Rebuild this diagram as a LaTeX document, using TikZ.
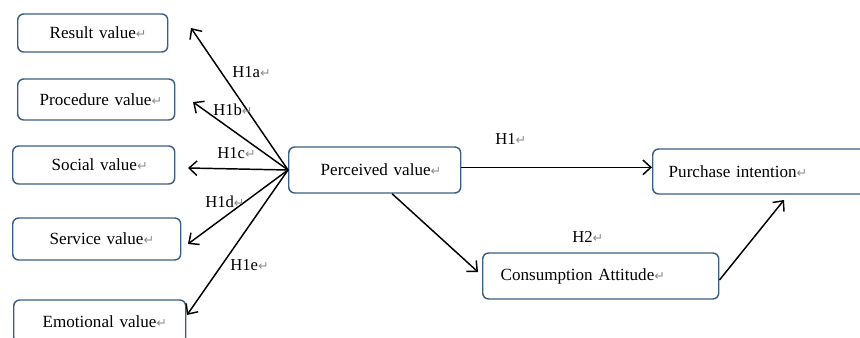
\documentclass[tikz,border=0pt]{standalone}
\usepackage{fontspec}
\setmainfont{Liberation Serif}
\newfontfamily\symfont{DejaVu Sans}
\usetikzlibrary{arrows.meta,calc}
\definecolor{boxblue}{RGB}{59,94,133}
\newcommand\ret{{\color{black!45}\symfont\fontsize{9.5}{9.5}\selectfont ↵}}
\newcommand\bxt[2]{\hspace*{#1}#2\ret}
\begin{document}
\begin{tikzpicture}[x=0.75pt,y=-0.75pt,
  box/.style={draw=boxblue, line width=1.1pt, rounded corners=4.5pt, anchor=west,
    inner xsep=0pt, inner ysep=0pt, align=left, font=\fontsize{12.8}{14}\selectfont},
  arr/.style={line width=1.1pt, -{Straight Barb[length=6pt,width=11pt,line width=1.1pt]}},
  lab/.style={anchor=west, inner sep=0pt, font=\fontsize{12.5}{14}\selectfont}]
\useasboundingbox (0,0) rectangle (860,338);
% boxes
\node[box, text width=112.5pt, minimum height=28.5pt] (R) at (17,33) {\bxt{24pt}{Result value}};
\node[box, text width=117.75pt, minimum height=30.75pt] (Pr) at (17,99.5) {\bxt{16.5pt}{Procedure value}};
\node[box, text width=121.5pt, minimum height=28.5pt] (S) at (12,165) {\bxt{29.25pt}{Social value}};
\node[box, text width=126pt, minimum height=31.5pt] (Sv) at (12,239) {\bxt{27.75pt}{Service value}};
\node[box, text width=129pt, minimum height=32.25pt] (E) at (13,321.5) {\bxt{21.75pt}{Emotional value}};
\node[box, text width=129pt, minimum height=34.5pt] (P) at (288,170) {\bxt{24pt}{Perceived value}};
\node[box, text width=171pt, minimum height=33.75pt] (PI) at (652,171.5) {\bxt{12pt}{Purchase intention}};
\node[box, text width=177pt, minimum height=34.5pt] (C) at (482,276) {\bxt{13.5pt}{Consumption Attitude}};
% arrow tips
\coordinate (ta) at (191,28);
\coordinate (tb) at (193,102);
\coordinate (tc) at (188,168);
\coordinate (td) at (188,244);
\coordinate (te) at (187,315);
\coordinate (tC) at (478,272);
\coordinate (tPI) at (784,200);
\coordinate (sP) at ($(P.south west)!0.6!(P.south east)$);
\coordinate (sC) at ($(C.east)+(0,4)$);
% connectors
\draw[arr] (P.west) -- (ta);
\draw[arr] (P.west) -- (tb);
\draw[arr] (P.west) -- (tc);
\draw[arr] (P.west) -- (td);
\draw[arr] (P.west) -- (te);
\draw[arr] ([yshift=2pt]P.east) -- ([yshift=2pt]P.east -| PI.west);
\draw[arr] (sP) -- (tC);
\draw[arr] (sC) -- (tPI);
% labels
\node[lab] (la) at (232,72) {H1a\ret};
\node[lab] (lb) at (213,110) {H1b\ret};
\node[lab] (lc) at (217,153) {H1c\ret};
\node[lab] (ld) at (205,202) {H1d\ret};
\node[lab] (le) at (230,265) {H1e\ret};
\node[lab] (l1) at (495,139) {H1\ret};
\node[lab] (l2) at (572,237) {H2\ret};
\end{tikzpicture}
\end{document}
